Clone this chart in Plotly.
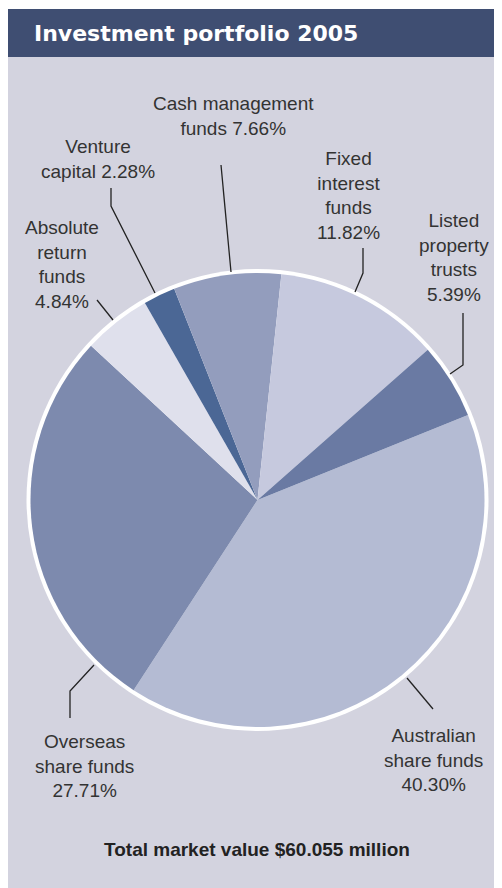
import plotly.graph_objects as go

# ---- data ----
categories = ["Australian share funds", "Overseas share funds", "Absolute return funds",
              "Venture capital", "Cash management funds", "Fixed interest funds",
              "Listed property trusts"]
shares = [40.30, 27.71, 4.84, 2.28, 7.66, 11.82, 5.39]
label_texts = ["Australian<br>share funds<br>40.30%",
               "Overseas<br>share funds<br>27.71%",
               "Absolute<br>return<br>funds<br>4.84%",
               "Venture<br>capital 2.28%",
               "Cash management<br>funds 7.66%",
               "Fixed<br>interest<br>funds<br>11.82%",
               "Listed<br>property<br>trusts<br>5.39%"]
slice_colors = ["#b4bbd3", "#7d8aae", "#dfe0ec", "#4b6795", "#939dbd", "#c6c9de", "#6a7aa3"]
title_text = "Investment portfolio 2005"
footer_text = "Total market value $60.055 million"

# page has an 8px body margin; figure spans the rest of the window
OFF = 8
W, H = 494, 880
def px(x):
    return (x - OFF) / W
def py(y):
    return 1 - (y - OFF) / H

# ---- layout helpers (window-pixel positions of labels and leader lines) ----
label_pos = [(433, 760), (84, 766), (62, 265), (98, 159), (233, 116), (348, 195), (454, 257)]
leaders = [
    [(407, 678), (433, 709)],
    [(70, 718), (70, 691), (94, 665)],
    [(97, 300), (113, 320)],
    [(111, 188), (111, 206), (155, 293)],
    [(221, 165), (231, 272)],
    [(363, 248), (363, 273), (355, 292)],
    [(463, 313), (463, 365), (450, 374)],
]

cx, cy, R, Rin = 257.5, 500, 231, 227

fig = go.Figure(go.Pie(
    labels=categories, values=shares, sort=False, direction="clockwise", rotation=68,
    marker=dict(colors=slice_colors, line=dict(width=0)),
    textinfo="none", hoverinfo="label+percent", showlegend=False,
    domain=dict(x=[px(cx - Rin), px(cx + Rin)], y=[py(cy + Rin), py(cy - Rin)]),
))

shapes = [
    dict(type="rect", xref="paper", yref="paper", x0=0, x1=1, y0=0, y1=py(57),
         fillcolor="#d3d3df", line=dict(width=0), layer="below"),
    dict(type="rect", xref="paper", yref="paper", x0=0, x1=1, y0=py(57), y1=py(9),
         fillcolor="#3f4e72", line=dict(width=0), layer="below"),
    dict(type="circle", xref="paper", yref="paper", x0=px(cx - R), x1=px(cx + R),
         y0=py(cy + R), y1=py(cy - R), fillcolor="white", line=dict(width=0), layer="below"),
]
for pts in leaders:
    path = "M " + " L ".join(f"{px(x)},{py(y)}" for x, y in pts)
    shapes.append(dict(type="path", xref="paper", yref="paper", path=path,
                       line=dict(color="#222222", width=1.3)))

annotations = []
for txt, (x, y) in zip(label_texts, label_pos):
    annotations.append(dict(text=txt, x=px(x), y=py(y), xref="paper", yref="paper",
                            showarrow=False, xanchor="center", yanchor="middle", align="center",
                            font=dict(family="Liberation Sans, Arial, sans-serif", size=19,
                                      color="#333333")))
annotations.append(dict(text="<b>" + title_text + "</b>", x=px(32), y=py(33), xref="paper",
                        yref="paper", showarrow=False, xanchor="left", yanchor="middle",
                        font=dict(family="DejaVu Sans, sans-serif", size=22,
                                  color="white")))
annotations.append(dict(text="<b>" + footer_text + "</b>", x=px(257), y=py(849), xref="paper",
                        yref="paper", showarrow=False, xanchor="center", yanchor="middle",
                        font=dict(family="Liberation Sans, Arial, sans-serif", size=19,
                                  color="#222222")))

fig.update_layout(width=W, height=H, margin=dict(l=0, r=0, t=0, b=0),
                  paper_bgcolor="white", plot_bgcolor="white",
                  shapes=shapes, annotations=annotations)
fig.write_html("out.html")
